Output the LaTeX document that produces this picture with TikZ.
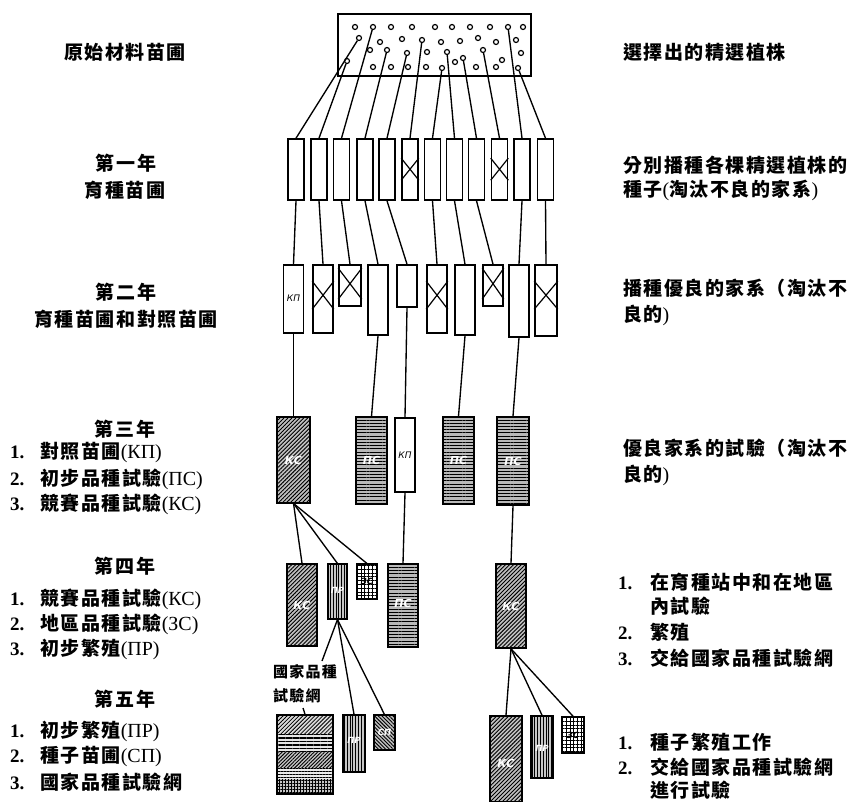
\documentclass[tikz,border=0pt]{standalone}
\usepackage{fontspec}
\newfontfamily\cjk{Noto Sans CJK TC}[LetterSpace=8]
\newfontfamily\ser{Liberation Serif}
\newfontfamily\cyr{DejaVu Sans}
\usetikzlibrary{patterns.meta}
\newcommand\numbx[1]{\makebox[30pt][l]{\ser\bfseries #1}}
\newcommand\numbr[1]{\makebox[32pt][l]{\ser\bfseries #1}}
\newcommand\cy[1]{{\ser\mdseries\fontsize{20}{22}\selectfont #1}}
\tikzset{
  lt/.style={font=\cjk\bfseries\fontsize{19}{22}\selectfont, inner sep=0pt},
  ltw/.style={lt, anchor=west},
  bx/.style={draw, line width=1.6pt, inner sep=0pt},
  wbx/.style={bx, fill=white},
  sz/.style 2 args={minimum width=#1, minimum height=#2},
  con/.style={line width=1.35pt},
  xl/.style={line width=1.2pt},
  dotn/.style={circle, draw, line width=1.2pt, inner sep=0pt, minimum size=5pt, fill=white},
  kc/.style={bx, preaction={fill=gray!50}, pattern={Lines[angle=45,distance=2.8pt,line width=0.9pt]}},
  pc/.style={bx, preaction={fill=gray!55}, pattern={Lines[angle=0,distance=3.2pt,line width=1pt]}},
  pr/.style={bx, preaction={fill=gray!45}, pattern={Lines[angle=90,distance=2.8pt,line width=1pt]}},
  zc/.style={bx, preaction={fill=white}, pattern={Hatch[angle=0,distance=3.8pt,line width=1pt]}},
  sp/.style={bx, preaction={fill=gray!50}, pattern={Lines[angle=-45,distance=2.6pt,line width=0.9pt]}},
  rl/.style={font=\cyr\itshape\bfseries\fontsize{11}{11}\selectfont, text=white, inner sep=0pt},
  rls/.style={font=\cyr\itshape\bfseries\fontsize{8.5}{9}\selectfont, text=white, inner sep=0pt},
  rlb/.style={font=\cyr\itshape\fontsize{9}{9}\selectfont, text=black, inner sep=0pt},
  nat/.style={font=\cjk\bfseries\fontsize{15}{16}\selectfont, inner sep=0pt, anchor=west},
}
\begin{document}
\begin{tikzpicture}[x=1pt,y=-1pt]
\useasboundingbox[fill=white] (0,0) rectangle (851,801);

% ---------- left labels ----------
\node[lt] (t0) at (125,52) {原始材料苗圃};
\node[lt] (y1) at (126,163) {第一年};
\node[lt] (y1b) at (125,190) {育種苗圃};
\node[lt] (y2) at (126,292) {第二年};
\node[lt] (y2b) at (126,319) {育種苗圃和對照苗圃};
\node[lt] (y3) at (125,429) {第三年};
\node[ltw] (l3a) at (10,452) {\numbx{1.}對照苗圃\cy{(КП)}};
\node[ltw] (l3b) at (10,479) {\numbx{2.}初步品種試驗\cy{(ПС)}};
\node[ltw] (l3c) at (10,504) {\numbx{3.}競賽品種試驗\cy{(КС)}};
\node[lt] (y4) at (125,566) {第四年};
\node[ltw] (l4a) at (10,599) {\numbx{1.}競賽品種試驗\cy{(КС)}};
\node[ltw] (l4b) at (10,624) {\numbx{2.}地區品種試驗\cy{(ЗС)}};
\node[ltw] (l4c) at (10,649) {\numbx{3.}初步繁殖\cy{(ПР)}};
\node[lt] (y5) at (125,699) {第五年};
\node[ltw] (l5a) at (10,731) {\numbx{1.}初步繁殖\cy{(ПР)}};
\node[ltw] (l5b) at (10,756) {\numbx{2.}種子苗圃\cy{(СП)}};
\node[ltw] (l5c) at (10,782) {\numbx{3.}國家品種試驗網};

% ---------- right labels ----------
\node[ltw] (r0) at (623,52) {選擇出的精選植株};
\node[ltw] (r1a) at (623,165) {分別播種各棵精選植株的};
\node[ltw] (r1b) at (623,190) {種子\cy{(}淘汰不良的家系\cy{)}};
\node[ltw] (r2a) at (623,288) {播種優良的家系（淘汰不};
\node[ltw] (r2b) at (623,315) {良的\cy{)}};
\node[ltw] (r3a) at (623,448) {優良家系的試驗（淘汰不};
\node[ltw] (r3b) at (623,475) {良的\cy{)}};
\node[ltw] (r4a) at (618,582) {\numbr{1.}在育種站中和在地區};
\node[ltw] (r4b) at (650,606) {內試驗};
\node[ltw] (r4c) at (618,632) {\numbr{2.}繁殖};
\node[ltw] (r4d) at (618,658) {\numbr{3.}交給國家品種試驗網};
\node[ltw] (r5a) at (618,742) {\numbr{1.}種子繁殖工作};
\node[ltw] (r5b) at (618,767) {\numbr{2.}交給國家品種試驗網};
\node[ltw] (r5c) at (650,790) {進行試驗};

% ---------- top box with dots ----------
\node[wbx, sz={193pt}{62pt}] (top) at (434.5,45) {};
\foreach \x/\y [count=\i] in {359/38,347/61,373/27,387/50,407/53,422/40,442/68,447/52,463/58,483/50,508/27,518/68,
  355/27,391/27,412/27,435/27,452/27,470/27,490/27,523/27,
  380/42,402/39,441/42,460/41,478/38,496/42,516/40,
  370/50,427/52,502/60,521/53,
  373/67,391/67,408/67,426/67,455/62,476/67,496/67}
  \node[dotn] (d\i) at (\x,\y) {};

% ---------- first year ----------
\foreach \x [count=\i] in {296,319,341.5,365,387,410,432.5,454.5,476.5,499.5,522,545.5}
  \node[wbx, sz={16pt}{61pt}] (a\i) at (\x,169.5) {};
\foreach \i in {6,10}
  \draw[xl] ([yshift=-20pt]a\i.north west) -- ([yshift=-42pt]a\i.north east)
            ([yshift=-42pt]a\i.north west) -- ([yshift=-20pt]a\i.north east);
\foreach \i in {1,...,12}
  \draw[con] (d\i) -- (a\i.north);

% ---------- second year ----------
\node[wbx, sz={20pt}{68pt}] (b1) at (293.5,299) {};
\node[wbx, sz={20pt}{68pt}] (b2) at (323,299) {};
\node[wbx, sz={22pt}{41pt}] (b3) at (350,285.5) {};
\node[wbx, sz={20pt}{70pt}] (b4) at (378,300) {};
\node[wbx, sz={20pt}{42pt}] (b5) at (407,286) {};
\node[wbx, sz={20pt}{68pt}] (b6) at (437,299) {};
\node[wbx, sz={20pt}{70pt}] (b7) at (465,300) {};
\node[wbx, sz={20pt}{41pt}] (b8) at (493,285.5) {};
\node[wbx, sz={20pt}{72pt}] (b9) at (519,301) {};
\node[wbx, sz={22pt}{71pt}] (b10) at (546,300.5) {};
\node[rlb] (kp1) at (293.5,298) {КП};
\foreach \i in {2,6,10}
  \draw[xl] ([yshift=-17pt]b\i.north west) -- ([yshift=-45pt]b\i.north east)
            ([yshift=-45pt]b\i.north west) -- ([yshift=-17pt]b\i.north east);
\foreach \i in {3,8}
  \draw[xl] ([yshift=-4pt]b\i.north west) -- ([yshift=-35pt]b\i.north east)
            ([yshift=-35pt]b\i.north west) -- ([yshift=-4pt]b\i.north east);
\foreach \s/\t in {1/1,2/2,3/3,4/4,5/5,7/6,8/7,9/8,11/9,12/10}
  \draw[con] (a\s.south) -- (b\t.north);

% ---------- third year ----------
\node[kc, sz={33pt}{86pt}] (c1) at (293.5,460) {};
\node[pc, sz={31pt}{87pt}] (c2) at (371.5,460.5) {};
\node[wbx, sz={20pt}{74pt}] (c3) at (405,455) {};
\node[pc, sz={31pt}{87pt}] (c4) at (458.5,460.5) {};
\node[pc, sz={32pt}{88pt}] (c5) at (513,461) {};
\node[rl] (c1l) at (c1) {КС};
\node[rl] (c2l) at (c2) {ПС};
\node[rlb] (c3l) at (c3) {КП};
\node[rl] (c4l) at (c4) {ПС};
\node[rl] (c5l) at (c5) {ПС};
\foreach \s/\t in {1/1,4/2,5/3,7/4,9/5}
  \draw[con] (b\s.south) -- (c\t.north);

% ---------- fourth year ----------
\node[kc, sz={30pt}{82pt}] (g1) at (302,605) {};
\node[pr, sz={19pt}{55pt}] (g2) at (337.5,591.5) {};
\node[zc, sz={20pt}{35pt}] (g3) at (367,581.5) {};
\node[pc, sz={30pt}{83pt}] (g4) at (403,605.5) {};
\node[kc, sz={30pt}{84pt}] (g5) at (511,606) {};
\node[rl] (g1l) at (g1) {КС};
\node[rls] (g2l) at (337.5,590) {ПР};
\node[rls, text=black] (g3l) at (g3) {ЗС};
\node[rl] (g4l) at (403,603) {ПС};
\node[rl] (g5l) at (g5) {КС};
\foreach \t in {1,2,3}
  \draw[con] (c1.south) -- (g\t.north);
\draw[con] (c3.south) -- (g4.north);
\draw[con] (c5.south) -- (g5.north);

% ---------- fifth year ----------
\fill[preaction={fill=gray!30}, pattern={Lines[angle=45,distance=2.8pt,line width=0.8pt]}] (277,715) rectangle (333,734);
\fill[preaction={fill=gray!20}, pattern={Lines[angle=0,distance=3.5pt,line width=1.1pt]}] (277,734) rectangle (333,752);
\fill[preaction={fill=gray!45}, pattern={Lines[angle=45,distance=2.5pt,line width=0.9pt]}] (277,752) rectangle (333,768);
\fill[preaction={fill=gray!15}, pattern={Lines[angle=0,distance=3pt,line width=0.9pt]}] (277,768) rectangle (333,779);
\fill[preaction={fill=gray!45}, pattern={Hatch[angle=0,distance=3pt,line width=1pt]}] (277,779) rectangle (333,794);
\node[bx, sz={56pt}{79pt}] (h1) at (305,754.5) {};
\node[pr, sz={22pt}{57pt}] (h2) at (354,743.5) {};
\node[sp, sz={21pt}{35pt}] (h3) at (384.5,732.5) {};
\node[kc, sz={32pt}{86pt}] (h4) at (506,759) {};
\node[pr, sz={22pt}{62pt}] (h5) at (542,747) {};
\node[zc, sz={22pt}{36pt}] (h6) at (573,735) {};
\node[rls] (h2l) at (354,740) {ПР};
\node[rls] (h3l) at (h3) {СП};
\node[rl] (h4l) at (506,763) {КС};
\node[rls] (h5l) at (542,748) {ПР};
\node[rls, text=black] (h6l) at (h6) {ЗС};

\node[nat] (nat1) at (273,672) {國家品種};
\node[nat] (nat2) at (273,696) {試驗網};
\coordinate (natc) at (322,661);
\coordinate (natd) at (303,708);
\draw[con] (g2.south) -- (natc);
\draw[con] (natd) -- (h1.north);
\draw[con] (g2.south) -- (h2.north);
\draw[con] (g2.south) -- (h3.north);
\foreach \t in {4,5,6}
  \draw[con] (g5.south) -- (h\t.north);
\end{tikzpicture}
\end{document}
